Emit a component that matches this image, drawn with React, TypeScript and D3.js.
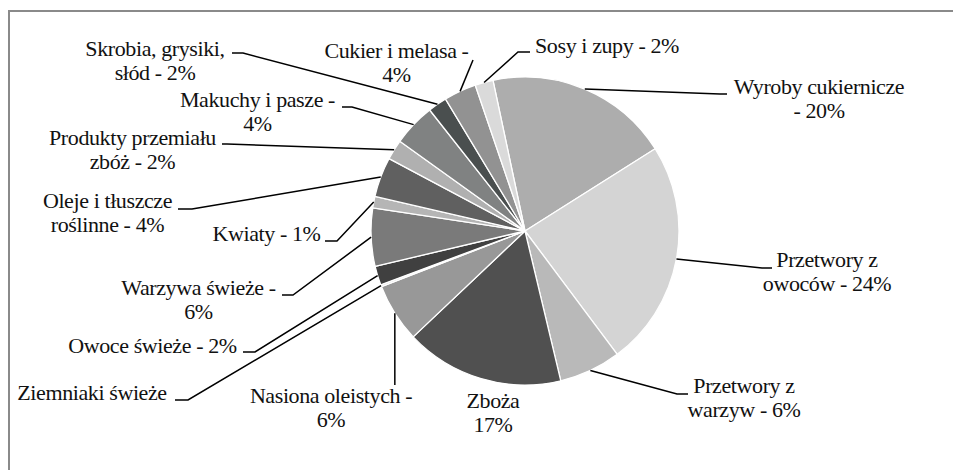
import React from "react";
import * as d3 from "d3";

// ---- data ----
const categories = [
  "Wyroby cukiernicze",
  "Przetwory z owoców",
  "Przetwory z warzyw",
  "Zboża",
  "Nasiona oleistych",
  "Ziemniaki świeże",
  "Owoce świeże",
  "Warzywa świeże",
  "Kwiaty",
  "Oleje i tłuszcze roślinne",
  "Produkty przemiału zbóż",
  "Makuchy i pasze",
  "Skrobia, grysiki, słód",
  "Cukier i melasa",
  "Sosy i zupy",
];
const values = [19.4, 23.8, 6.5, 16.7, 6.2, 0.2, 2.0, 6.1, 1.2, 4.2, 2.1, 4.5, 2.0, 3.4, 1.9];
const labelLines = [
  ["Wyroby cukiernicze", "- 20%"],
  ["Przetwory z", "owoców - 24%"],
  ["Przetwory z", "warzyw - 6%"],
  ["Zboża", "17%"],
  ["Nasiona oleistych -", "6%"],
  ["Ziemniaki świeże"],
  ["Owoce świeże - 2%"],
  ["Warzywa świeże -", "6%"],
  ["Kwiaty - 1%"],
  ["Oleje i tłuszcze", "roślinne - 4%"],
  ["Produkty przemiału", "zbóż - 2%"],
  ["Makuchy i pasze -", "4%"],
  ["Skrobia, grysiki,", "słód - 2%"],
  ["Cukier i melasa -", "4%"],
  ["Sosy i zupy - 2%"],
];

// ---- styles / layout ----
const colors = [
  "#adadad", "#d4d4d4", "#b9b9b9", "#505050", "#989898", "#dcdcdc", "#404040",
  "#7a7a7a", "#b5b5b5", "#606060", "#b0b0b0", "#808282", "#4a4f4f", "#929292", "#dadada",
];
// label block: center x, first baseline y, leader points from label to the slice
const labelLayout: { cx: number; by: number; leader: [number, number][] | null; vertical?: number }[] = [
  { cx: 819, by: 94, leader: [[727, 94], [720, 94]] },
  { cx: 827, by: 267, leader: [[772, 268], [762, 268]] },
  { cx: 744, by: 393, leader: [[688, 394], [677, 394]] },
  { cx: 493, by: 408, leader: null },
  { cx: 331, by: 403, leader: [], vertical: 385 },
  { cx: 92, by: 400, leader: [[175, 400], [188, 400]] },
  { cx: 152.5, by: 353, leader: [[243, 352], [255, 352]] },
  { cx: 198.5, by: 295, leader: [[282, 295], [293, 295]] },
  { cx: 266.5, by: 241, leader: [[325, 241], [337, 241]] },
  { cx: 107.5, by: 208, leader: [[178, 209], [192, 209]] },
  { cx: 132.5, by: 145, leader: [[222, 144], [227, 144]] },
  { cx: 257.5, by: 107, leader: [[342, 107], [352, 107]] },
  { cx: 155, by: 56, leader: [[232, 53], [243, 53]] },
  { cx: 396.5, by: 58, leader: [[473, 60]] },
  { cx: 607, by: 53, leader: [[530, 52], [518, 52]] },
];

const W = 953;
const H = 470;
const CX = 525;
const CY = 231;
const R = 154;
const FONT = '"Liberation Serif", "Times New Roman", serif';

export default function App() {
  const start = (-12 * Math.PI) / 180;
  const pie = d3
    .pie<number>()
    .sort(null)
    .value((d) => d)
    .startAngle(start)
    .endAngle(start + 2 * Math.PI);
  const arcs = pie(values);
  const arc = d3.arc<d3.PieArcDatum<number>>().innerRadius(0).outerRadius(R);
  const edge = (a: d3.PieArcDatum<number>): [number, number] => {
    const m = (a.startAngle + a.endAngle) / 2;
    return [CX + R * Math.sin(m), CY - R * Math.cos(m)];
  };
  const line = d3.line<[number, number]>();

  return (
    <svg
      width={W}
      height={H}
      style={{ position: "absolute", left: 0, top: 0, background: "#fff" }}
    >
      <rect x={9} y={11} width={1200} height={1200} fill="#fff" stroke="#8a8a8a" strokeWidth={2} />
      <g transform={`translate(${CX},${CY})`}>
        {arcs.map((a, i) => (
          <path key={categories[i]} d={arc(a) || ""} fill={colors[i]} stroke="#fff" strokeWidth={1.3} strokeLinejoin="round" />
        ))}
      </g>
      {arcs.map((a, i) => {
        const L = labelLayout[i];
        if (!L.leader) return null;
        const e = edge(a);
        const pts: [number, number][] =
          L.vertical !== undefined ? [[e[0], L.vertical], e] : [...L.leader, e];
        return (
          <path key={"l" + i} d={line(pts) || ""} fill="none" stroke="#000" strokeWidth={1.5} />
        );
      })}
      {labelLines.map((lines, i) => {
        const L = labelLayout[i];
        return (
          <text
            key={"t" + i}
            style={{ fontFamily: FONT, fontSize: "22px", letterSpacing: "-0.4px" }}
            fill="#111"
            textAnchor="middle"
          >
            {lines.map((s, j) => (
              <tspan key={j} x={L.cx} y={L.by + j * 24}>
                {s}
              </tspan>
            ))}
          </text>
        );
      })}
    </svg>
  );
}
